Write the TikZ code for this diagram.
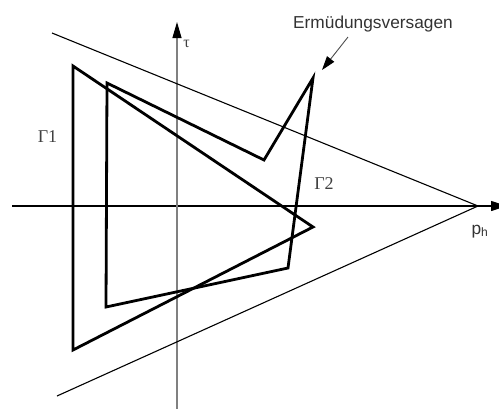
\documentclass[tikz,border=0pt]{standalone}
\usepackage{fontspec}
\setmainfont{Liberation Sans}
\newfontfamily\serifgr{Liberation Serif}
\usetikzlibrary{arrows.meta}
\begin{document}
\begin{tikzpicture}[x=1pt,y=-1pt,
  thickpoly/.style={line width=2.8pt, line join=miter},
  thinline/.style={line width=1.1pt},
  lbl/.style={font=\fontsize{17.3}{19}\selectfont, text=black!80, inner sep=0pt},
  grlbl/.style={font=\serifgr\fontsize{18}{20}\selectfont, text=black!75, inner sep=0pt}]
\useasboundingbox (0,0) rectangle (499,408);
\clip (0,0) rectangle (499,408);
% axes
\coordinate (hstart) at (12,206);
\coordinate (hend) at (507,206);
\coordinate (vstart) at (177,410);
\coordinate (vend) at (177,22);
\draw[thinline, -{Triangle[length=16pt,width=10pt]}] (hstart) -- (hend);
\draw[thinline, black!50, -{Triangle[length=16pt,width=9pt,color=black]}] (vstart) -- (vend);
% envelope
\coordinate (ua) at (52,33);
\coordinate (apex) at (478,206);
\coordinate (la) at (57,396);
\draw[thinline, line join=miter] (ua) -- (apex) -- (la);
% Gamma 1
\coordinate (a1) at (73,66);
\coordinate (a2) at (313,227);
\coordinate (a3) at (73,350);
\draw[thickpoly] (a1) -- (a2) -- (a3) -- cycle;
% Gamma 2
\coordinate (b1) at (107,83);
\coordinate (b2) at (264,160);
\coordinate (b3) at (313,78);
\coordinate (b4) at (288,268);
\coordinate (b5) at (106,307);
\draw[thickpoly] (b1) -- (b2) -- (b3) -- (b4) -- (b5) -- cycle;
% labels
\node[grlbl] (g1) at (47.5,136.5) {Γ1};
\node[grlbl] (g2) at (324,183.5) {Γ2};
\node[grlbl, font=\serifgr\fontsize{16}{18}\selectfont] (tau) at (186.5,44) {τ};
\node[lbl, anchor=base] (ph) at (480,234) {p\textsubscript{h}};
\node[lbl, anchor=base] (erm) at (373,28) {Ermüdungsversagen};
\coordinate (ermstart) at (348,37);
\coordinate (ermtip) at (322,70);
\draw[line width=0.9pt, black!70, -{Triangle[length=14pt,width=9pt,color=black]}] (ermstart) -- (ermtip);
\end{tikzpicture}
\end{document}
